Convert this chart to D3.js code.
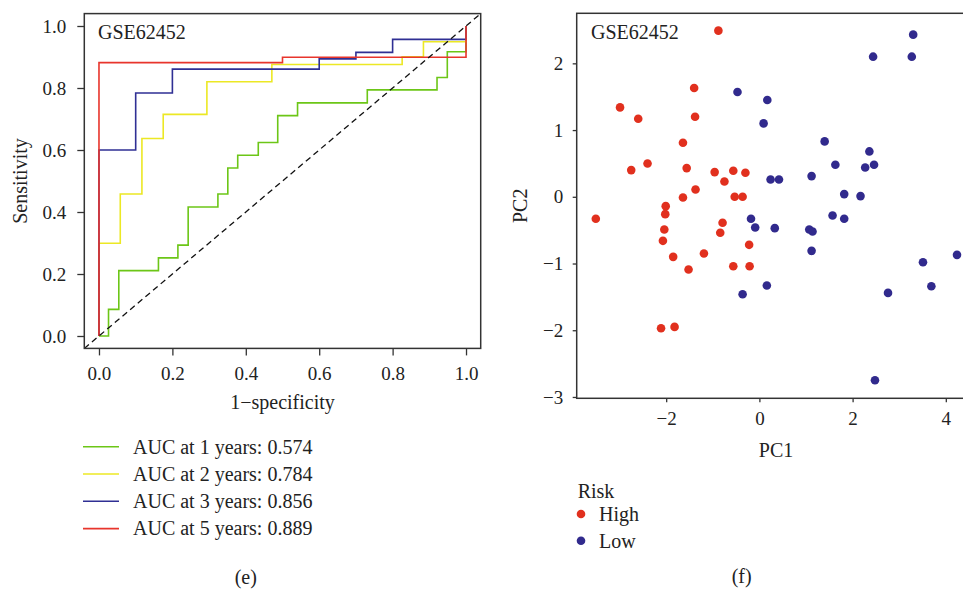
<!DOCTYPE html>
<html>
<head>
<meta charset="utf-8">
<script src="https://cdn.jsdelivr.net/npm/d3@7"></script>
<style>
  body { margin: 0; background: #fff; }
  svg { display: block; font-family: "Liberation Serif", "DejaVu Serif", serif; }
</style>
</head>
<body>
<svg id="chart" width="963" height="590"></svg>
<script>
// ROC curves (corner points, 1-specificity vs sensitivity)
const rocLabels = ["AUC at 1 years: 0.574", "AUC at 2 years: 0.784", "AUC at 3 years: 0.856", "AUC at 5 years: 0.889"];
const rocColors = ["#6cc617", "#ece824", "#2f2f94", "#e8352c"];
const fpr1 = [0, 0.026, 0.054, 0.162, 0.215, 0.243, 0.324, 0.351, 0.378, 0.434, 0.487, 0.541, 0.731, 0.921, 0.949, 1];
const tpr1 = [0, 0.086, 0.211, 0.252, 0.293, 0.416, 0.458, 0.542, 0.583, 0.624, 0.711, 0.752, 0.794, 0.834, 0.917, 1];
const fpr2 = [0, 0, 0.058, 0.117, 0.175, 0.294, 0.471, 0.826, 0.884, 1];
const tpr2 = [0, 0.299, 0.458, 0.637, 0.715, 0.820, 0.876, 0.901, 0.949, 1];
const fpr3 = [0, 0, 0.1, 0.2, 0.6, 0.7, 0.8, 1];
const tpr3 = [0, 0.6, 0.784, 0.861, 0.894, 0.915, 0.957, 1];
const fpr5 = [0, 0, 0.5, 1];
const tpr5 = [0, 0.882, 0.899, 1];
const rocTicks = [0, 0.2, 0.4, 0.6, 0.8, 1];

// PCA scatter
const riskGroups = ["High", "Low"];
const riskColors = ["#e1301e", "#312a8d"];
const highPC1 = [-0.88, -1.40, -2.99, -2.60, -1.38, -1.64, -2.75, -2.40, -1.56, -0.96, -0.56, -0.30, -0.75, -1.37, -1.64, -0.53, -0.36,
  -3.51, -2.01, -2.02, -2.04, -2.07, -1.85, -1.52, -1.19, -0.79, -0.84, -0.22, -0.56, -0.21, -2.11, -1.82];
const highPC2 = [2.49, 1.63, 1.34, 1.17, 1.20, 0.81, 0.40, 0.50, 0.43, 0.37, 0.39, 0.36, 0.23, 0.11, -0.01, 0.00, 0.00,
  -0.33, -0.14, -0.26, -0.49, -0.66, -0.90, -1.09, -0.85, -0.39, -0.54, -0.72, -1.04, -1.04, -1.97, -1.95];
const lowPC1 = [-0.47, 0.17, 0.09, 0.24, 0.42, 1.12, 3.30, 2.44, 3.27, 1.40, 2.36, 1.63, 2.27, 2.46, 1.82, 2.17,
  1.57, 1.82, 0.33, 1.07, 1.14, 1.12, 0.16, 4.24, 3.51, 3.69, 2.76, 2.48, -0.18, -0.09, -0.36];
const lowPC2 = [1.57, 1.45, 1.10, 0.26, 0.26, 0.31, 2.43, 2.10, 2.10, 0.83, 0.68, 0.48, 0.44, 0.48, 0.04, 0.01,
  -0.28, -0.33, -0.47, -0.49, -0.52, -0.81, -1.33, -0.87, -0.98, -1.34, -1.44, -2.75, -0.33, -0.46, -1.46];
const pcXTicks = [-2, 0, 2, 4];
const pcYTicks = [-3, -2, -1, 0, 1, 2];

const svg = d3.select("#chart");
const ink = "#222";

// ---------- left panel: ROC ----------
const xRoc = d3.scaleLinear().domain([-0.04, 1.04]).range([84.3, 480.7]);
const yRoc = d3.scaleLinear().domain([-0.04, 1.04]).range([348.4, 13.6]);

const left = svg.append("g");

const rocSeries = [
  d3.zip(fpr1, tpr1),
  d3.zip(fpr2, tpr2),
  d3.zip(fpr3, tpr3),
  d3.zip(fpr5, tpr5)
];

const rocLine = d3
  .line()
  .x(d => xRoc(d[0]))
  .y(d => yRoc(d[1]))
  .curve(d3.curveStepAfter);

left
  .selectAll("path.roc")
  .data(rocSeries)
  .enter()
  .append("path")
  .attr("class", "roc")
  .attr("d", rocLine)
  .attr("fill", "none")
  .attr("stroke", (d, i) => rocColors[i])
  .attr("stroke-width", 1.6);

left
  .append("line")
  .attr("x1", xRoc(-0.04))
  .attr("y1", yRoc(-0.04))
  .attr("x2", xRoc(1.04))
  .attr("y2", yRoc(1.04))
  .attr("stroke", "#111")
  .attr("stroke-width", 1.3)
  .attr("stroke-dasharray", "6,4");

left
  .append("rect")
  .attr("x", xRoc(-0.04))
  .attr("y", yRoc(1.04))
  .attr("width", xRoc(1.04) - xRoc(-0.04))
  .attr("height", yRoc(-0.04) - yRoc(1.04))
  .attr("fill", "none")
  .attr("stroke", "#333")
  .attr("stroke-width", 1.5);

const xRocAxis = left
  .append("g")
  .attr("transform", "translate(0," + yRoc(-0.04) + ")")
  .call(d3.axisBottom(xRoc).tickValues(rocTicks).tickFormat(d3.format(".1f")).tickSize(7).tickPadding(11));
const yRocAxis = left
  .append("g")
  .attr("transform", "translate(" + xRoc(-0.04) + ",0)")
  .call(d3.axisLeft(yRoc).tickValues(rocTicks).tickFormat(d3.format(".1f")).tickSize(7).tickPadding(11));

[xRocAxis, yRocAxis].forEach(a => {
  a.select(".domain").remove();
  a.selectAll("line").attr("stroke", "#333").attr("stroke-width", 1.3);
  a.selectAll("text").attr("fill", ink).style("font-family", "Liberation Serif").style("font-size", "19px");
});

left
  .append("text")
  .attr("x", 282.5)
  .attr("y", 409)
  .attr("text-anchor", "middle")
  .attr("fill", ink)
  .style("font-size", "20px")
  .text("1\u2212specificity");

left
  .append("text")
  .attr("transform", "translate(27,181) rotate(-90)")
  .attr("text-anchor", "middle")
  .attr("fill", ink)
  .style("font-size", "20px")
  .text("Sensitivity");

left
  .append("text")
  .attr("x", 98)
  .attr("y", 39)
  .attr("fill", ink)
  .style("font-size", "20px")
  .text("GSE62452");

const rocLegend = left
  .selectAll("g.leg")
  .data(rocLabels)
  .enter()
  .append("g")
  .attr("class", "leg")
  .attr("transform", (d, i) => "translate(83," + (446.7 + i * 27.3) + ")");

rocLegend
  .append("line")
  .attr("x1", 0)
  .attr("x2", 36)
  .attr("stroke", (d, i) => rocColors[i])
  .attr("stroke-width", 1.6);

rocLegend
  .append("text")
  .attr("x", 50)
  .attr("dy", "0.34em")
  .attr("fill", ink)
  .style("font-size", "20px")
  .text(d => d);

left
  .append("text")
  .attr("x", 245.8)
  .attr("y", 584)
  .attr("text-anchor", "middle")
  .attr("fill", ink)
  .style("font-size", "20px")
  .text("(e)");

// ---------- right panel: PCA ----------
const xPc = d3.scaleLinear().domain([-3.92, 5.3]).range([576.7, 1006.4]);
const yPc = d3.scaleLinear().domain([-3.02, 2.75]).range([398.3, 13.3]);

const right = svg.append("g");

const pcPoints = [
  d3.zip(highPC1, highPC2).map(p => ({ x: p[0], y: p[1], g: 0 })),
  d3.zip(lowPC1, lowPC2).map(p => ({ x: p[0], y: p[1], g: 1 }))
].flat();

right
  .selectAll("circle.pt")
  .data(pcPoints)
  .enter()
  .append("circle")
  .attr("class", "pt")
  .attr("cx", d => xPc(d.x))
  .attr("cy", d => yPc(d.y))
  .attr("r", 4.3)
  .attr("fill", d => riskColors[d.g]);

right
  .append("rect")
  .attr("x", xPc(-3.92))
  .attr("y", yPc(2.75))
  .attr("width", xPc(5.3) - xPc(-3.92))
  .attr("height", yPc(-3.02) - yPc(2.75))
  .attr("fill", "none")
  .attr("stroke", "#333")
  .attr("stroke-width", 1.5);

const xPcAxis = right
  .append("g")
  .attr("transform", "translate(0," + yPc(-3.02) + ")")
  .call(d3.axisBottom(xPc).tickValues(pcXTicks).tickFormat(d3.format("d")).tickSize(4).tickPadding(9));
const yPcAxis = right
  .append("g")
  .attr("transform", "translate(" + xPc(-3.92) + ",0)")
  .call(d3.axisLeft(yPc).tickValues(pcYTicks).tickFormat(d3.format("d")).tickSize(4).tickPadding(9.5));

[xPcAxis, yPcAxis].forEach(a => {
  a.select(".domain").remove();
  a.selectAll("line").attr("stroke", "#333").attr("stroke-width", 1.3);
  a.selectAll("text").attr("fill", ink).style("font-family", "Liberation Serif").style("font-size", "19px");
});

right
  .append("text")
  .attr("x", 776)
  .attr("y", 457)
  .attr("text-anchor", "middle")
  .attr("fill", ink)
  .style("font-size", "20px")
  .text("PC1");

right
  .append("text")
  .attr("transform", "translate(527,205.8) rotate(-90)")
  .attr("text-anchor", "middle")
  .attr("fill", ink)
  .style("font-size", "20px")
  .text("PC2");

right
  .append("text")
  .attr("x", 591)
  .attr("y", 39)
  .attr("fill", ink)
  .style("font-size", "20px")
  .text("GSE62452");

right
  .append("text")
  .attr("x", 577.7)
  .attr("y", 498)
  .attr("fill", ink)
  .style("font-size", "20px")
  .text("Risk");

const riskLegend = right
  .selectAll("g.rleg")
  .data(riskGroups)
  .enter()
  .append("g")
  .attr("class", "rleg")
  .attr("transform", (d, i) => "translate(581," + (514 + i * 26.7) + ")");

riskLegend
  .append("circle")
  .attr("r", 4.3)
  .attr("fill", (d, i) => riskColors[i]);

riskLegend
  .append("text")
  .attr("x", 18)
  .attr("dy", "0.34em")
  .attr("fill", ink)
  .style("font-size", "20px")
  .text(d => d);

right
  .append("text")
  .attr("x", 741.7)
  .attr("y", 583)
  .attr("text-anchor", "middle")
  .attr("fill", ink)
  .style("font-size", "20px")
  .text("(f)");
</script>
</body>
</html>
